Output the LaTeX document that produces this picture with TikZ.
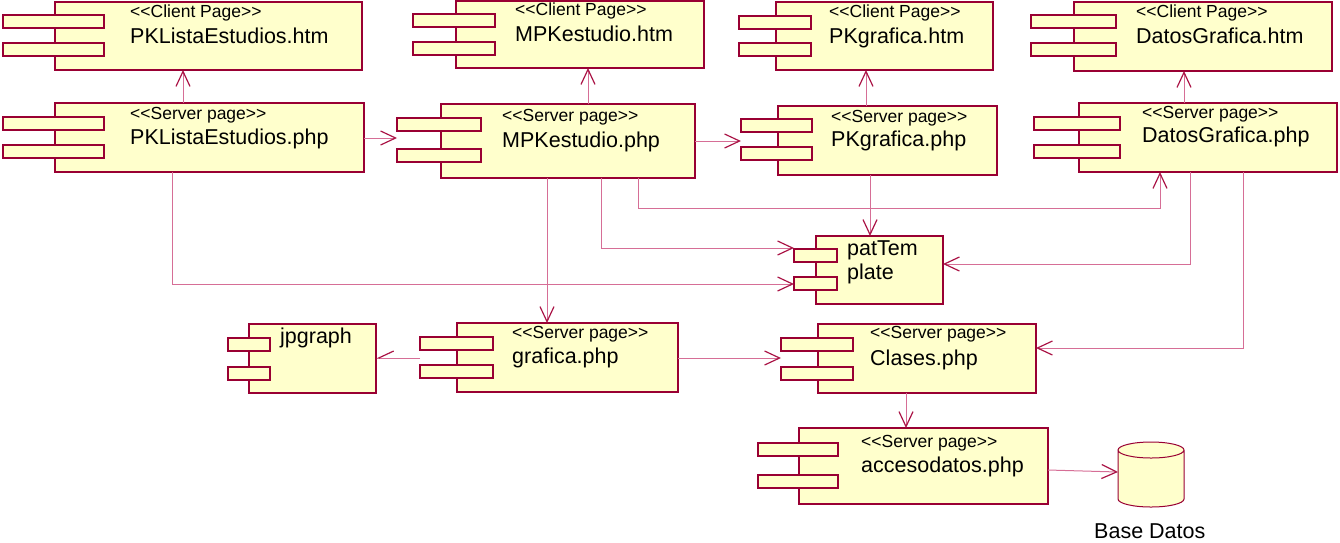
\documentclass[tikz,border=0pt]{standalone}
\usepackage{fontspec}
\setmainfont{Liberation Sans}
\usetikzlibrary{arrows.meta,calc}

\definecolor{compfill}{RGB}{255,255,204}
\definecolor{compline}{RGB}{153,0,51}
\definecolor{connline}{RGB}{214,110,150}
\definecolor{tipline}{RGB}{170,20,70}

\tikzset{
  compbody/.style={rectangle, draw=compline, fill=compfill, line width=2pt,
    inner sep=0pt, outer sep=0pt, anchor=north west},
  comptab/.style={compbody, minimum height=13pt},
  stereo/.style={inner sep=0pt, anchor=base west, font=\fontsize{17.5}{20}\selectfont},
  cname/.style={inner sep=0pt, anchor=base west, font=\fontsize{21.5}{24}\selectfont},
  conn/.style={draw=connline, line width=1pt,
    -{Straight Barb[length=15pt,width=14pt,line width=1.2pt,color=tipline]}},
  halfconn/.style={draw=connline, line width=1pt,
    -{Straight Barb[harpoon,swap,length=15pt,width=14pt,line width=1.2pt,color=tipline]}},
}

% component: name, body x1,y1,x2,y2, tab x1,x2, tab tops y1,y2
\newcommand\component[9]{%
  \node[compbody, minimum width={#4-#2}, minimum height={#5-#3}] (#1) at (#2,#3) {};
  \node[comptab, minimum width={#7-#6}] (#1-t1) at (#6,#8) {};
  \node[comptab, minimum width={#7-#6}] (#1-t2) at (#6,#9) {};
}

\begin{document}
\begin{tikzpicture}[x=1pt, y=-1pt]
\useasboundingbox (0,0) rectangle (1340,542);

% client pages
\component{lhtm}{55}{2}{362}{70}{3}{104}{15}{43}
\node[stereo] (lhtm-s) at (130,17) {{<}{<}Client Page{>}{>}};
\node[cname]  (lhtm-n) at (130,43) {PKListaEstudios.htm};

\component{mhtm}{456}{1}{704}{68}{413}{495}{14}{42}
\node[stereo] (mhtm-s) at (515,15) {{<}{<}Client Page{>}{>}};
\node[cname]  (mhtm-n) at (515,41) {MPKestudio.htm};

\component{ghtm}{776}{2}{993}{70}{739}{811}{16}{43}
\node[stereo] (ghtm-s) at (829,17) {{<}{<}Client Page{>}{>}};
\node[cname]  (ghtm-n) at (829,43) {PKgrafica.htm};

\component{dhtm}{1074}{2}{1332}{71}{1031}{1116}{15}{43}
\node[stereo] (dhtm-s) at (1136,17) {{<}{<}Client Page{>}{>}};
\node[cname]  (dhtm-n) at (1136,43) {DatosGrafica.htm};

% server pages, upper row
\component{lphp}{55}{103}{364}{172}{3}{104}{117}{145}
\node[stereo] (lphp-s) at (130,119) {{<}{<}Server page{>}{>}};
\node[cname]  (lphp-n) at (130,144) {PKListaEstudios.php};

\component{mphp}{441}{104}{695}{178}{397}{481}{118}{149}
\node[stereo] (mphp-s) at (502,121) {{<}{<}Server page{>}{>}};
\node[cname]  (mphp-n) at (502,147) {MPKestudio.php};

\component{gphp}{778}{106}{997}{175}{741}{812}{119}{147}
\node[stereo] (gphp-s) at (831,122) {{<}{<}Server page{>}{>}};
\node[cname]  (gphp-n) at (831,146) {PKgrafica.php};

\component{dphp}{1079}{103}{1337}{172}{1034}{1120}{117}{145}
\node[stereo] (dphp-s) at (1142,118) {{<}{<}Server page{>}{>}};
\node[cname]  (dphp-n) at (1142,142) {DatosGrafica.php};

% template component
\component{pat}{816}{236}{943}{304}{794}{837}{249}{277}
\node[cname] (pat-n1) at (847,255) {patTem};
\node[cname] (pat-n2) at (847,279) {plate};

% lower row
\component{jp}{249}{324}{376}{393}{228}{270}{338}{367}
\node[cname] (jp-n) at (280,343) {jpgraph};

\component{gra}{457}{323}{678}{392}{420}{493}{337}{365}
\node[stereo] (gra-s) at (512,338) {{<}{<}Server page{>}{>}};
\node[cname]  (gra-n) at (512,363) {grafica.php};

\component{cls}{818}{324}{1036}{393}{781}{853}{338}{367}
\node[stereo] (cls-s) at (870,338) {{<}{<}Server page{>}{>}};
\node[cname]  (cls-n) at (870,365) {Clases.php};

\component{acc}{799}{428}{1048}{504}{758}{838}{443}{475}
\node[stereo] (acc-s) at (861,447) {{<}{<}Server page{>}{>}};
\node[cname]  (acc-n) at (861,472) {accesodatos.php};

% database
\node[rectangle, inner sep=0pt, outer sep=0pt, minimum width=66pt, minimum height=65pt,
      anchor=north west] (db) at (1118,442) {};
\fill[compfill] (1118,450) -- (1118,499)
  arc[start angle=180, end angle=360, x radius=33pt, y radius=8pt] -- (1184,450)
  arc[start angle=0, end angle=180, x radius=33pt, y radius=8pt] -- cycle;
\draw[compline, line width=1pt] (1118,450) -- (1118,499)
  arc[start angle=180, end angle=360, x radius=33pt, y radius=8pt] -- (1184,450)
  arc[start angle=0, end angle=180, x radius=33pt, y radius=8pt]
  arc[start angle=180, end angle=360, x radius=33pt, y radius=8pt];
\node[cname] (db-n) at (1094,538) {Base Datos};

% dependencies
\draw[conn] (183,0 |- lphp.north) -- (183,0 |- lhtm.south);
\draw[conn] (588,0 |- mphp.north) -- (588,0 |- mhtm.south);
\draw[conn] (866,0 |- gphp.north) -- (866,0 |- ghtm.south);
\draw[conn] (1184,0 |- dphp.north) -- (1184,0 |- dhtm.south);

\draw[conn] (lphp.east |- 0,138) -- (mphp-t1.west |- 0,138);
\draw[conn] (mphp.east |- 0,141) -- (gphp-t1.west |- 0,141);

\draw[conn] (601,0 |- mphp.south) -- (601,248) -- (pat-t1.west |- 0,248);
\draw[conn] (638,0 |- mphp.south) -- (638,208) -- (1160,208) -- (1160,0 |- dphp.south);
\draw[conn] (172,0 |- lphp.south) -- (172,284) -- (pat-t2.west |- 0,284);
\draw[conn] (547,0 |- mphp.south) -- (547,0 |- gra.north);
\draw[conn] (870,0 |- gphp.south) -- (870,0 |- pat.north);
\draw[conn] (1190,0 |- dphp.south) -- (1190,264) -- (pat.east |- 0,264);
\draw[conn] (1243,0 |- dphp.south) -- (1243,348) -- (cls.east |- 0,348);

\draw[halfconn] (gra-t1.west |- 0,358) -- (jp.east |- 0,358);
\draw[conn] (gra.east |- 0,358) -- (cls-t1.west |- 0,358);
\draw[conn] (906,0 |- cls.south) -- (906,0 |- acc.north);
\draw[conn] (acc.east |- 0,470) -- (db.west |- 0,472);
\end{tikzpicture}
\end{document}
